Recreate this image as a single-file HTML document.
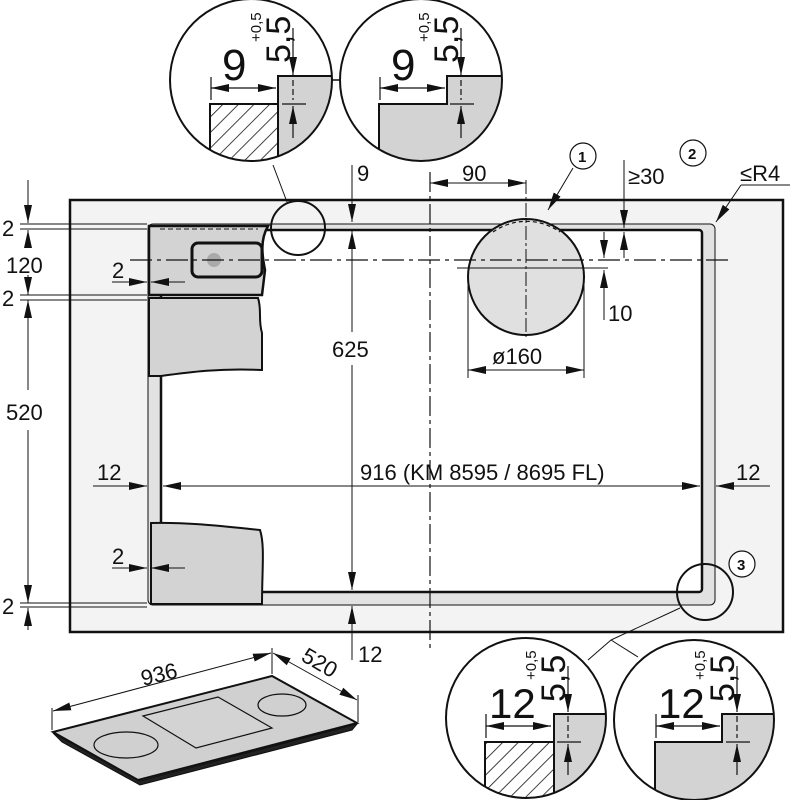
<!DOCTYPE html>
<html><head><meta charset="utf-8"><style>
html,body{margin:0;padding:0;background:#fff}
svg{display:block}
text{font-family:"Liberation Sans",Arial,sans-serif;fill:#111}
</style></head><body>
<svg width="800" height="800" viewBox="0 0 800 800" xmlns="http://www.w3.org/2000/svg">
<defs>
<marker id="a" viewBox="0 0 18 8" refX="18" refY="4" markerWidth="18" markerHeight="8" markerUnits="userSpaceOnUse" orient="auto-start-reverse"><path d="M0,0L18,4L0,8z" fill="#111"/></marker>
<pattern id="h" width="11" height="11" patternUnits="userSpaceOnUse" patternTransform="rotate(45)"><line x1="0" y1="0" x2="0" y2="11" stroke="#111" stroke-width="1.6"/></pattern>
<clipPath id="c1"><circle cx="251" cy="80" r="81"/></clipPath>
<clipPath id="c2"><circle cx="421" cy="80" r="81"/></clipPath>
<clipPath id="c3"><circle cx="526" cy="718" r="80"/></clipPath>
<clipPath id="c4"><circle cx="694" cy="720" r="80"/></clipPath>
</defs>

<rect x="70" y="200" width="713" height="432" fill="#f3f3f3" stroke="#111" stroke-width="2.5"/>
<rect x="148" y="224" width="567" height="381" rx="5" fill="#e2e2e2" stroke="#111" stroke-width="1"/>
<rect x="161" y="230" width="541" height="362" rx="3" fill="#fff" stroke="#111" stroke-width="2.5"/>

<path d="M149,226 H268 C260,240 262,255 265,270 L262,295 H149 Z" fill="#d3d3d3" stroke="#111" stroke-width="2.5"/>
<line x1="160" y1="229" x2="258" y2="229" stroke="#555" stroke-width="1.5" stroke-dasharray="5,3"/>
<rect x="192" y="243" width="70" height="34" rx="6" fill="#d3d3d3" stroke="#111" stroke-width="3"/>
<circle cx="214" cy="260" r="7" fill="#aaa"/>
<path d="M149,298 H258 C262,310 258,320 262,333 L262,370 C220,368 190,372 161,376 L149,376 Z" fill="#d3d3d3" stroke="#111" stroke-width="2"/>
<path d="M151,523 C190,522 230,527 260,530 C265,545 262,570 262,604 H151 Z" fill="#d3d3d3" stroke="#111" stroke-width="2"/>

<circle cx="526" cy="277" r="58" fill="#e0e0e0" stroke="#111" stroke-width="2"/>
<path d="M493,232 A58,58 0 0 1 560,232" fill="none" stroke="#111" stroke-width="1.2" stroke-dasharray="4,3"/>
<line x1="526" y1="180" x2="526" y2="337" stroke="#111" stroke-width="1" stroke-dasharray="14,3,3,3"/>

<line x1="430" y1="172" x2="430" y2="652" stroke="#111" stroke-width="1.2" stroke-dasharray="20,4,4,4"/>
<line x1="130" y1="260" x2="732" y2="260" stroke="#111" stroke-width="1.2" stroke-dasharray="22,5,4,5"/>
<line x1="457" y1="268" x2="608" y2="268" stroke="#111" stroke-width="1"/>

<circle cx="298" cy="228" r="27" fill="none" stroke="#111" stroke-width="2"/>
<circle cx="705" cy="592" r="28" fill="none" stroke="#111" stroke-width="2"/>
<line x1="287" y1="202" x2="273" y2="165" stroke="#111" stroke-width="1"/>
<line x1="680" y1="608" x2="611" y2="640" stroke="#111" stroke-width="1"/>
<line x1="611" y1="640" x2="588" y2="660" stroke="#111" stroke-width="1"/>
<line x1="611" y1="640" x2="638" y2="657" stroke="#111" stroke-width="1"/>
<line x1="332" y1="80" x2="340" y2="80" stroke="#111" stroke-width="1.5"/>

<g stroke="#111" stroke-width="1" fill="none">
<line x1="28" y1="180" x2="28" y2="223" marker-end="url(#a)"/>
<line x1="20" y1="224" x2="147" y2="224"/>
<line x1="20" y1="229" x2="147" y2="229"/>
<line x1="28" y1="230" x2="28" y2="248" marker-start="url(#a)"/>
<line x1="28" y1="275" x2="28" y2="295" marker-end="url(#a)"/>
<line x1="20" y1="295" x2="147" y2="295"/>
<line x1="20" y1="300" x2="147" y2="300"/>
<line x1="28" y1="300" x2="28" y2="390" marker-start="url(#a)"/>
<line x1="28" y1="430" x2="28" y2="603" marker-end="url(#a)"/>
<line x1="20" y1="603" x2="147" y2="603"/>
<line x1="20" y1="607" x2="147" y2="607"/>
<line x1="28" y1="608" x2="28" y2="630" marker-start="url(#a)"/>
<line x1="112" y1="282" x2="147" y2="282" marker-end="url(#a)"/>
<line x1="185" y1="282" x2="151" y2="282" marker-end="url(#a)"/>
<line x1="112" y1="568" x2="147" y2="568" marker-end="url(#a)"/>
<line x1="185" y1="568" x2="151" y2="568" marker-end="url(#a)"/>
<line x1="93" y1="486" x2="147" y2="486" marker-end="url(#a)"/>
<line x1="163" y1="486" x2="700" y2="486" marker-start="url(#a)" marker-end="url(#a)"/>
<line x1="770" y1="486" x2="716" y2="486" marker-end="url(#a)"/>
<line x1="352" y1="165" x2="352" y2="222" marker-end="url(#a)"/>
<line x1="352" y1="231" x2="352" y2="332" marker-start="url(#a)"/>
<line x1="352" y1="365" x2="352" y2="590" marker-end="url(#a)"/>
<line x1="352" y1="606" x2="352" y2="660" marker-start="url(#a)"/>
<line x1="430" y1="183" x2="526" y2="183" marker-start="url(#a)" marker-end="url(#a)"/>
<line x1="624" y1="160" x2="624" y2="228" marker-end="url(#a)"/>
<line x1="624" y1="258" x2="624" y2="232" marker-end="url(#a)"/>
<line x1="604" y1="232" x2="604" y2="258" marker-end="url(#a)"/>
<line x1="604" y1="320" x2="604" y2="270" marker-end="url(#a)"/>
<line x1="468" y1="285" x2="468" y2="378"/>
<line x1="584" y1="285" x2="584" y2="378"/>
<line x1="468" y1="370" x2="584" y2="370" marker-start="url(#a)" marker-end="url(#a)"/>
<line x1="573" y1="168" x2="548" y2="210" marker-end="url(#a)"/>
<line x1="790" y1="185" x2="741" y2="185"/>
<line x1="741" y1="185" x2="716" y2="222" marker-end="url(#a)"/>
</g>
<g font-size="22">
<text x="2" y="236">2</text>
<text x="6" y="273">120</text>
<text x="2" y="306">2</text>
<text x="112" y="278">2</text>
<text x="6" y="420">520</text>
<text x="2" y="614">2</text>
<text x="112" y="564">2</text>
<text x="97" y="480">12</text>
<text x="736" y="480">12</text>
<text x="360" y="480">916 (KM 8595 / 8695 FL)</text>
<text x="357" y="181">9</text>
<text x="332" y="357">625</text>
<text x="358" y="662">12</text>
<text x="462" y="181">90</text>
<text x="628" y="184">≥30</text>
<text x="740" y="181">≤R4</text>
<text x="608" y="321">10</text>
<text x="492" y="364">ø160</text>
</g>
<g font-size="15" font-weight="bold">
<circle cx="583" cy="156" r="13" fill="#fff" stroke="#111" stroke-width="1.2"/><text x="578" y="162">1</text>
<circle cx="693" cy="153" r="13" fill="#fff" stroke="#111" stroke-width="1.2"/><text x="688" y="159">2</text>
<circle cx="742" cy="564" r="13" fill="#fff" stroke="#111" stroke-width="1.2"/><text x="737" y="570">3</text>
</g>

<g clip-path="url(#c1)">
<rect x="170" y="0" width="170" height="170" fill="#fff"/>
<rect x="278" y="76" width="70" height="100" fill="#d3d3d3" stroke="#111" stroke-width="2"/>
<rect x="210" y="104" width="68" height="70" fill="url(#h)" stroke="#111" stroke-width="2"/>
</g>
<circle cx="251" cy="80" r="81" fill="none" stroke="#111" stroke-width="2"/>
<g clip-path="url(#c2)">
<rect x="340" y="0" width="170" height="170" fill="#fff"/>
<path d="M379,170 V104 H447 V76 H520 V170 Z" fill="#d3d3d3" stroke="#111" stroke-width="2"/>
</g>
<circle cx="421" cy="80" r="81" fill="none" stroke="#111" stroke-width="2"/>
<g stroke="#111" stroke-width="1.2" fill="none">
<line x1="211" y1="77" x2="211" y2="100"/>
<line x1="211" y1="88" x2="276" y2="88" marker-start="url(#a)" marker-end="url(#a)"/>
<line x1="293" y1="28" x2="293" y2="75" marker-end="url(#a)"/>
<line x1="293" y1="138" x2="293" y2="106" marker-end="url(#a)"/>
<line x1="282" y1="104" x2="306" y2="104"/>
<line x1="293" y1="80" x2="293" y2="100" stroke-dasharray="6,3"/>
<line x1="380" y1="77" x2="380" y2="100"/>
<line x1="380" y1="88" x2="445" y2="88" marker-start="url(#a)" marker-end="url(#a)"/>
<line x1="461" y1="28" x2="461" y2="75" marker-end="url(#a)"/>
<line x1="461" y1="138" x2="461" y2="106" marker-end="url(#a)"/>
<line x1="450" y1="104" x2="474" y2="104"/>
<line x1="461" y1="80" x2="461" y2="100" stroke-dasharray="6,3"/>
</g>
<g font-size="44"><text x="222" y="80">9</text><text x="391" y="80">9</text></g>
<g font-size="34"><text transform="translate(290,63) rotate(-90)">5,5</text><text transform="translate(458,63) rotate(-90)">5,5</text></g>
<g font-size="15"><text transform="translate(261,42) rotate(-90)">+0,5</text><text transform="translate(429,42) rotate(-90)">+0,5</text></g>

<g clip-path="url(#c3)">
<rect x="440" y="630" width="175" height="175" fill="#fff"/>
<rect x="554" y="714" width="70" height="100" fill="#d3d3d3" stroke="#111" stroke-width="2"/>
<rect x="485" y="742" width="69" height="70" fill="url(#h)" stroke="#111" stroke-width="2"/>
</g>
<circle cx="526" cy="718" r="80" fill="none" stroke="#111" stroke-width="2"/>
<g clip-path="url(#c4)">
<rect x="610" y="630" width="175" height="175" fill="#fff"/>
<path d="M655,810 V742 H722 V714 H790 V810 Z" fill="#d3d3d3" stroke="#111" stroke-width="2"/>
</g>
<circle cx="694" cy="720" r="80" fill="none" stroke="#111" stroke-width="2"/>
<g stroke="#111" stroke-width="1.2" fill="none">
<line x1="486" y1="714" x2="486" y2="738"/>
<line x1="486" y1="726" x2="551" y2="726" marker-start="url(#a)" marker-end="url(#a)"/>
<line x1="568" y1="666" x2="568" y2="712" marker-end="url(#a)"/>
<line x1="568" y1="775" x2="568" y2="744" marker-end="url(#a)"/>
<line x1="557" y1="742" x2="581" y2="742"/>
<line x1="568" y1="716" x2="568" y2="738" stroke-dasharray="6,3"/>
<line x1="656" y1="714" x2="656" y2="738"/>
<line x1="656" y1="726" x2="720" y2="726" marker-start="url(#a)" marker-end="url(#a)"/>
<line x1="737" y1="666" x2="737" y2="712" marker-end="url(#a)"/>
<line x1="737" y1="775" x2="737" y2="744" marker-end="url(#a)"/>
<line x1="726" y1="742" x2="750" y2="742"/>
<line x1="737" y1="716" x2="737" y2="738" stroke-dasharray="6,3"/>
</g>
<g font-size="42"><text x="489" y="718">12</text><text x="658" y="718">12</text></g>
<g font-size="34"><text transform="translate(565,702) rotate(-90)">5,5</text><text transform="translate(734,702) rotate(-90)">5,5</text></g>
<g font-size="15"><text transform="translate(536,680) rotate(-90)">+0,5</text><text transform="translate(705,680) rotate(-90)">+0,5</text></g>

<path d="M53,733 L62,742 L140,785 L352,730 L357,724 L140,781 Z" fill="#222" stroke="#111" stroke-width="1"/>
<path d="M53,732 L272,676 L357,723 L138,780 Z" fill="#d0d0d0" stroke="#111" stroke-width="2"/>
<path d="M143,716 L218,697 L272,728 L196,748 Z" fill="#d3d3d3" stroke="#111" stroke-width="1.2"/>
<ellipse cx="126" cy="745" rx="32" ry="13" fill="none" stroke="#111" stroke-width="1.2"/>
<ellipse cx="282" cy="705" rx="24" ry="11" fill="none" stroke="#111" stroke-width="1.2"/>
<g stroke="#111" stroke-width="1" fill="none">
<line x1="52" y1="708" x2="52" y2="730"/>
<line x1="272" y1="648" x2="272" y2="674"/>
<line x1="358" y1="695" x2="358" y2="722"/>
<line x1="53" y1="711" x2="271" y2="653" marker-start="url(#a)" marker-end="url(#a)"/>
<line x1="273" y1="653" x2="357" y2="700" marker-start="url(#a)" marker-end="url(#a)"/>
</g>
<text font-size="22" transform="translate(143,686) rotate(-14)">936</text>
<text font-size="22" transform="translate(300,660) rotate(30)">520</text>
</svg>
</body></html>
